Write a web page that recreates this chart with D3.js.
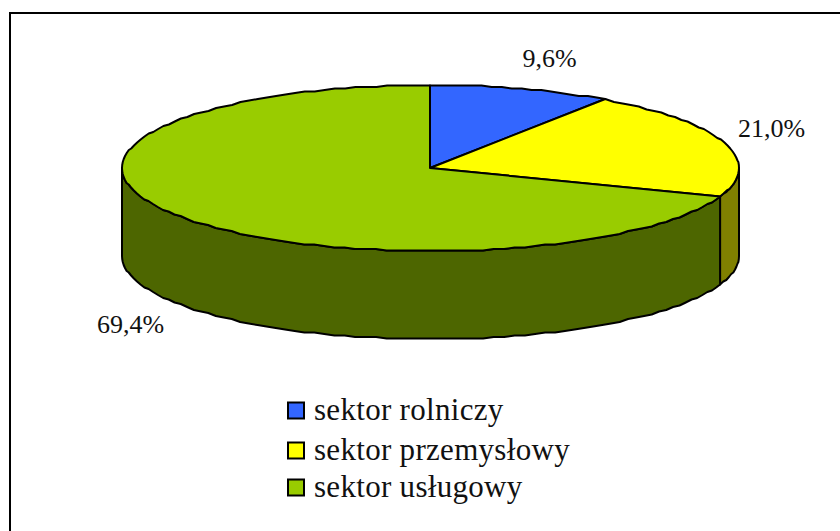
<!DOCTYPE html>
<html>
<head>
<meta charset="utf-8">
<script src="https://cdn.jsdelivr.net/npm/d3@7"></script>
<style>
  html, body { margin: 0; padding: 0; background: #fff; }
  text { font-family: "Liberation Serif", serif; fill: #111; }
</style>
</head>
<body>
<svg id="chart" width="840" height="531" style="display:block"></svg>
<script>
const categories = ['sektor rolniczy', 'sektor przemysłowy', 'sektor usługowy'];
const values = [9.6, 21.0, 69.4];
const valueLabels = ['9,6%', '21,0%', '69,4%'];
const topColors = ['#3366ff', '#ffff00', '#99cc00'];
const sideColors = ['#1a3380', '#808000', '#4d6600'];

const cx = 430, cy = 168, rxLeft = 308, rxRight = 309, ry = 83, depth = 88;
const grid = 1.5, segment = Math.PI / 90;

const svg = d3.select('#chart');

// only the top and left edges of the frame show, the rest is cropped off
svg.append('path')
  .attr('d', 'M10,531V13H840')
  .attr('fill', 'none')
  .attr('stroke', '#000')
  .attr('stroke-width', 2);

const slices = d3.pie().sort(null).value(d => d)(values);

// angles are clockwise from 12 o'clock, same as d3.pie
const snap = v => Math.round(v / grid) * grid;
const px = a => cx + (Math.sin(a) < 0 ? rxLeft : rxRight) * Math.sin(a);
const py = a => snap(cy - ry * Math.cos(a));

// the rim is a fine polygon with y snapped to a grid, which gives the stepped outline
function rim(a0, a1, dy) {
  const n = Math.max(1, Math.ceil(Math.abs(a1 - a0) / segment));
  return d3.range(n + 1)
    .map(i => a0 + (a1 - a0) * i / n)
    .map(a => [px(a), py(a) + dy]);
}

const line = d3.line();

// side wall, only the part of each slice facing the viewer
const visibleFrom = Math.PI / 2, visibleTo = Math.PI * 1.5;
slices.forEach((s, i) => {
  const a0 = Math.max(s.startAngle, visibleFrom);
  const a1 = Math.min(s.endAngle, visibleTo);
  if (a1 <= a0) return;
  const pts = rim(a0, a1, 0).concat(rim(a1, a0, depth));
  svg.append('path')
    .attr('d', line(pts) + 'Z')
    .attr('fill', sideColors[i])
    .attr('stroke', '#000').attr('stroke-width', 2)
    .attr('stroke-linejoin', 'round');
});

// top face
slices.forEach((s, i) => {
  const pts = [[cx, cy]].concat(rim(s.startAngle, s.endAngle, 0));
  svg.append('path')
    .attr('d', line(pts) + 'Z')
    .attr('fill', topColors[i])
    .attr('stroke', '#000').attr('stroke-width', 2)
    .attr('stroke-linejoin', 'round');
});

// value labels
const labelPos = [[549.5, 67], [771.5, 137], [130.5, 333]];
valueLabels.forEach((t, i) => {
  svg.append('text')
    .attr('x', labelPos[i][0]).attr('y', labelPos[i][1])
    .attr('text-anchor', 'middle')
    .attr('font-size', 26)
    .text(t);
});

// legend
const legendRows = [410.5, 450.5, 487.5];
const legend = svg.selectAll('.legend')
  .data(categories)
  .enter()
  .append('g')
  .attr('class', 'legend')
  .attr('transform', (d, i) => `translate(288,${legendRows[i]})`);

legend.append('rect')
  .attr('x', 0).attr('y', -8)
  .attr('width', 16).attr('height', 16)
  .attr('fill', (d, i) => topColors[i])
  .attr('stroke', '#000').attr('stroke-width', 2);

legend.append('text')
  .attr('x', 26).attr('y', 9)
  .attr('font-size', 31)
  .attr('letter-spacing', 0.3)
  .text(d => d);
</script>
</body>
</html>
